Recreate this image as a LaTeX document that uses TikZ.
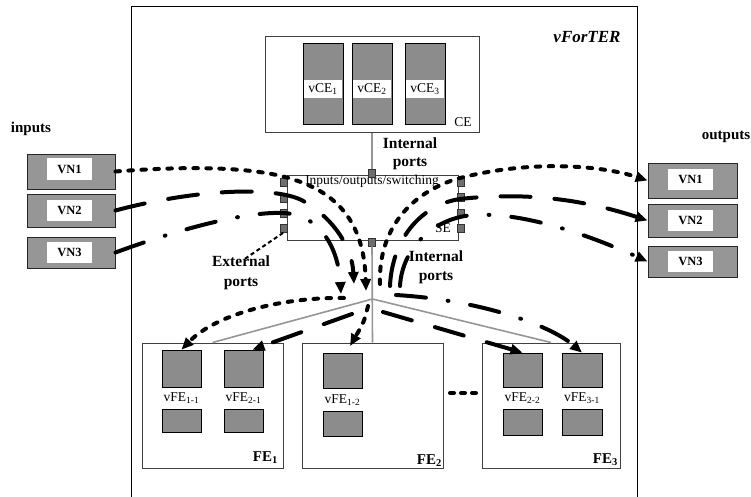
\documentclass[tikz,border=0pt]{standalone}
\usepackage{fontspec}
\setmainfont{Liberation Serif}
\usetikzlibrary{arrows.meta}
\definecolor{dith}{RGB}{140,140,140}
\definecolor{dithl}{RGB}{150,150,150}
\definecolor{conn}{RGB}{150,150,150}
\definecolor{portc}{RGB}{110,110,110}
\tikzset{
 fs/.style={font=\fontsize{13.5}{15}\selectfont, inner sep=0},
 bl/.style={font=\fontsize{15}{18}\bfseries\selectfont, inner sep=0, align=center},
 frame/.style={draw=black!75, line width=1, inner sep=0},
 vblk/.style={draw=black, fill=dith, line width=0.7, inner sep=0},
 vnbox/.style={draw=black!85, fill=dithl, line width=0.9, inner sep=0, minimum width=88},
 wlab/.style={fill=white, inner sep=0, minimum width=45, minimum height=21, font=\fontsize{12.5}{14}\bfseries\selectfont},
 vlab/.style={fill=white, inner sep=0, font=\fontsize{13.5}{15}\selectfont},
 port/.style={draw=black!80, fill=portc, line width=0.5, minimum width=7, minimum height=8, inner sep=0},
 gline/.style={draw=conn, line width=1.6},
 flow/.style={line width=4, line cap=round, -{Triangle[length=12pt,width=10pt]}},
 dotl/.style={flow, dash pattern=on 4.5pt off 8.5pt},
 longd/.style={flow, dash pattern=on 30pt off 24pt},
 dashdot/.style={flow, dash pattern=on 30pt off 22pt on 0.8pt off 22pt},
}
\begin{document}
\begin{tikzpicture}[x=1pt,y=-1pt]
\useasboundingbox (0,0) rectangle (751,497);
% outer frame
\draw[line width=1] (131,497) -- (131,7) -- (637,7) -- (637,497);
\node[font=\fontsize{17}{19}\bfseries\itshape\selectfont, inner sep=0] (title) at (587,37) {vForTER};

% CE
\node[frame, minimum width=214, minimum height=96] (CE) at (372,85) {};
\node[vblk, minimum width=40, minimum height=81] (vce1) at (323,83.5) {};
\node[vblk, minimum width=40, minimum height=81] (vce2) at (372,83.5) {};
\node[vblk, minimum width=40, minimum height=81] (vce3) at (425,83.5) {};
\node[vlab, minimum width=38, minimum height=18] (vce1l) at (323,89) {vCE\textsubscript{1}};
\node[vlab, minimum width=38, minimum height=18] (vce2l) at (372,89) {vCE\textsubscript{2}};
\node[vlab, minimum width=38, minimum height=18] (vce3l) at (425,89) {vCE\textsubscript{3}};
\node[fs] (ceL) at (463,122) {CE};

% SE
\node[frame, minimum width=171, minimum height=65] (SE) at (372.5,207.5) {};
\node[fs] (iosw) at (372,181) {Inputs/outputs/switching};
\node[fs] (seL) at (443,228) {SE};

% FE boxes
\node[frame, minimum width=141, minimum height=125] (FE1) at (212.5,405.5) {};
\node[frame, minimum width=141, minimum height=125] (FE2) at (372.5,405.5) {};
\node[frame, minimum width=138, minimum height=125] (FE3) at (551,405.5) {};
\node[bl, anchor=east] (FE1L) at (278,458) {FE\textsubscript{1}};
\node[bl, anchor=east] (FE2L) at (442,461) {FE\textsubscript{2}};
\node[bl, anchor=east] (FE3L) at (618,460) {FE\textsubscript{3}};

% vFE blocks
\node[vblk, minimum width=39, minimum height=37] (vfe11u) at (181.5,368.5) {};
\node[vblk, minimum width=39, minimum height=23] (vfe11d) at (181.5,420.5) {};
\node[vlab] (vfe11l) at (181.5,398) {vFE\textsubscript{1-1}};
\node[vblk, minimum width=39, minimum height=37] (vfe21u) at (243.5,368.5) {};
\node[vblk, minimum width=39, minimum height=23] (vfe21d) at (243.5,420.5) {};
\node[vlab] (vfe21l) at (243.5,398) {vFE\textsubscript{2-1}};
\node[vblk, minimum width=39, minimum height=35] (vfe12u) at (342.5,370.5) {};
\node[vblk, minimum width=39, minimum height=25] (vfe12d) at (342.5,423.5) {};
\node[vlab] (vfe12l) at (342.5,400) {vFE\textsubscript{1-2}};
\node[vblk, minimum width=39, minimum height=34] (vfe22u) at (522.5,370) {};
\node[vblk, minimum width=39, minimum height=26] (vfe22d) at (522.5,422) {};
\node[vlab] (vfe22l) at (522.5,398) {vFE\textsubscript{2-2}};
\node[vblk, minimum width=40, minimum height=34] (vfe31u) at (582,370) {};
\node[vblk, minimum width=40, minimum height=26] (vfe31d) at (582,422) {};
\node[vlab] (vfe31l) at (582,398) {vFE\textsubscript{3-1}};

% ellipsis between FE2 and FE3
\coordinate (ellA) at (450,393);
\coordinate (ellB) at (477,393);
\draw[line width=4, line cap=round, dash pattern=on 4pt off 7pt] (ellA) -- (ellB);

% VN boxes
\node[font=\fontsize{15}{17}\bfseries\selectfont, inner sep=0] (inp) at (31,129) {inputs};
\node[font=\fontsize{15}{17}\bfseries\selectfont, inner sep=0] (outp) at (726,137) {outputs};
\node[vnbox, minimum height=35] (vni1) at (71,171.5) {};
\node[vnbox, minimum height=33] (vni2) at (71,210.5) {};
\node[vnbox, minimum height=31] (vni3) at (71,252.5) {};
\node[wlab] (vni1l) at (69.5,169) {VN1};
\node[wlab] (vni2l) at (69.5,210) {VN2};
\node[wlab] (vni3l) at (69.5,252) {VN3};
\node[vnbox, minimum width=89, minimum height=35] (vno1) at (692.5,180.5) {};
\node[vnbox, minimum width=89, minimum height=33] (vno2) at (692.5,220.5) {};
\node[vnbox, minimum width=89, minimum height=31] (vno3) at (692.5,261.5) {};
\node[wlab] (vno1l) at (690.5,179) {VN1};
\node[wlab] (vno2l) at (690.5,220) {VN2};
\node[wlab] (vno3l) at (690.5,261) {VN3};

% ports
\node[port] (pT) at (372,173) {};
\node[port] (pB) at (372,242) {};
\node[port] (pL1) at (284,182) {};
\node[port] (pL2) at (284,198) {};
\node[port] (pL3) at (284,213) {};
\node[port] (pL4) at (284,228) {};
\node[port] (pR1) at (461,182) {};
\node[port] (pR2) at (461,197) {};
\node[port] (pR3) at (461,213) {};
\node[port] (pR4) at (461,228) {};

% grey internal links
\coordinate (hub) at (372.5,299);
\draw[gline] (CE.south -| pT) -- (pT.north);
\draw[gline] (pB.south) -- (FE2.north);
\draw[gline] (hub) -- (FE1.north);
\draw[gline] (hub) -- (FE3.north);

% labels for ports
\node[bl, font=\fontsize{15.5}{18}\bfseries\selectfont] (int1) at (410,154) {Internal\\ports};
\node[bl, font=\fontsize{15.5}{19}\bfseries\selectfont] (int2) at (436,267) {Internal\\ports};
\node[bl, font=\fontsize{15.5}{20}\bfseries\selectfont] (ext) at (241,273) {External\\ports};
\draw[line width=2, dash pattern=on 4pt off 3pt] ([xshift=4pt,yshift=-3pt]ext.north) -- (pL4.south);

% flow end/start points
\coordinate (i1end) at (366,291);
\coordinate (i2end) at (354,284);
\coordinate (i3end) at (341,294);
\coordinate (o1s) at (380,284);
\coordinate (o2s) at (390,286);
\coordinate (o3s) at (400,286);
\coordinate (d1s) at (344,298);
\coordinate (d2s) at (368,306);
\coordinate (d2e) at (350,346);
\coordinate (d3s) at (352,314);
\coordinate (d4s) at (383,312);
\coordinate (d5s) at (396,295);

% input flows
\draw[dotl] (vni1.east) .. controls (200,165) and (260,168) .. (295,180) .. controls (335,193) and (364,220) .. (i1end);
\draw[longd] (vni2.east) .. controls (200,188) and (280,186) .. (305,202) .. controls (335,220) and (352,248) .. (i2end);
\draw[dashdot] (vni3.east) .. controls (190,225) and (270,205) .. (300,216) .. controls (330,228) and (339,260) .. (i3end);

% output flows
\draw[dotl] (o1s) .. controls (378,230) and (410,192) .. (460,178) .. controls (530,160) and (600,165) .. (vno1.west);
\draw[longd] (o2s) .. controls (392,240) and (420,205) .. (460,199) .. controls (540,190) and (600,205) .. (vno2.west);
\draw[dashdot] (o3s) .. controls (402,250) and (430,222) .. (465,216) .. controls (520,208) and (600,240) .. (vno3.west);

% distribution flows
\draw[dotl] (d1s) .. controls (280,297) and (215,315) .. (vfe11u.north);
\draw[dotl] (d2s) .. controls (364,322) .. (d2e);
\draw[longd] (d3s) -- ([xshift=9pt]vfe21u.north);
\draw[longd] (d4s) -- (vfe22u.north);
\draw[dashdot] (d5s) .. controls (480,300) and (550,325) .. (vfe31u.north);
\end{tikzpicture}
\end{document}
